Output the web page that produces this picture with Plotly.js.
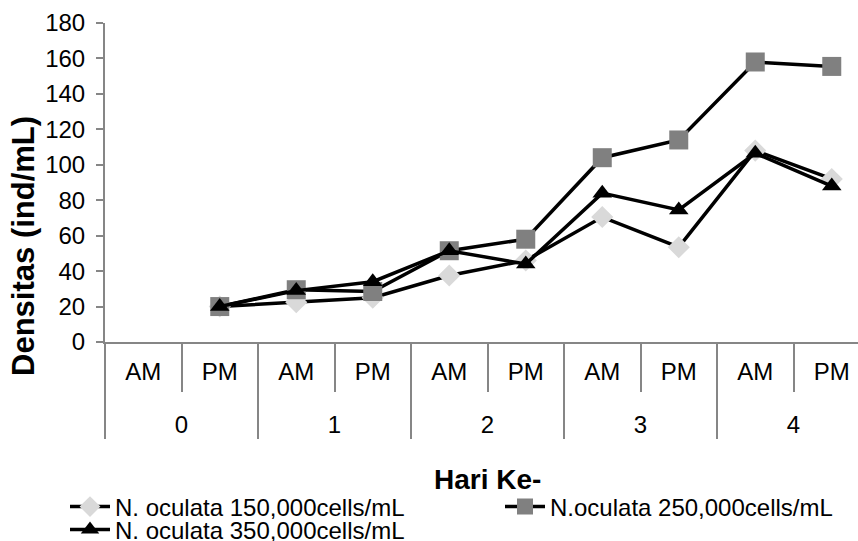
<!DOCTYPE html>
<html>
<head>
<meta charset="utf-8">
<script src="https://cdn.plot.ly/plotly-3.0.1.min.js"></script>
<style>html,body{margin:0;padding:0;background:#fff;}#chart{width:858px;height:541px;}</style>
</head>
<body>
<div id="chart"></div>
<script>
// Categories (two-level x axis)
var hari  = ["0", "0", "1", "1", "2", "2", "3", "3", "4", "4"];
var waktu = ["AM", "PM", "AM", "PM", "AM", "PM", "AM", "PM", "AM", "PM"];

// Series values (ind/mL)
var seriesNames = ["N. oculata 150,000cells/mL", "N.oculata 250,000cells/mL", "N. oculata 350,000cells/mL"];
var s150 = [null, 20, 22.5, 25, 37.5, 46, 70.5, 53.5, 108, 92];
var s250 = [null, 20, 29.5, 28.5, 51.5, 58, 104, 114, 158, 155.5];
var s350 = [null, 20, 29, 34, 51.5, 44, 84, 74.5, 106.5, 88];

// Y axis ticks
var yTicks = [0, 20, 40, 60, 80, 100, 120, 140, 160, 180];

var FONT = "Liberation Sans, Arial, sans-serif";
var AXIS_GRAY = "#868686";

// outer (day) labels are set one line lower, as in the reference
var hariLabel = hari.map(function (d) { return "<br>" + d; });

function mk(name, y, symbol, color, size, legendId) {
  return {
    type: "scatter",
    mode: "lines+markers",
    name: name,
    legend: legendId,
    x: [hariLabel, waktu],
    y: y,
    line: {color: "#000000", width: 3.5},
    marker: {symbol: symbol, color: color, size: size, line: {width: 0}},
    cliponaxis: false
  };
}

var data = [
  mk(seriesNames[0], s150, "diamond", "#d9d9d9", 17, "legend"),
  mk(seriesNames[1], s250, "square", "#808080", 19, "legend2"),
  mk(seriesNames[2], s350, "triangle-up", "#000000", 17, "legend3")
];

function leg(xpx, ypx) {
  return {
    orientation: "v",
    xref: "container", yref: "container",
    x: xpx / 858, y: 1 - ypx / 541,
    xanchor: "left", yanchor: "middle",
    bgcolor: "rgba(0,0,0,0)",
    borderwidth: 0,
    font: {family: FONT, size: 24, color: "#000000"},
    itemwidth: 40
  };
}

var layout = {
  width: 858,
  height: 541,
  margin: {l: 105, r: 0, t: 23, b: 199, pad: 0, autoexpand: false},
  paper_bgcolor: "#ffffff",
  plot_bgcolor: "#ffffff",
  font: {family: FONT, color: "#000000", size: 24},
  showlegend: true,
  xaxis: {
    type: "multicategory",
    range: [-0.5, 9.343],
    showline: true,
    linecolor: AXIS_GRAY,
    linewidth: 2,
    showgrid: false,
    zeroline: false,
    ticks: "outside",
    tickson: "boundaries",
    ticklen: 48,
    tickwidth: 2,
    tickcolor: AXIS_GRAY,
    ticklabelstandoff: 7,
    tickangle: 0,
    showdividers: true,
    dividercolor: AXIS_GRAY,
    dividerwidth: 2,
    automargin: false,
    tickfont: {family: FONT, size: 24, color: "#000000"}
  },
  yaxis: {
    range: [0, 180],
    tickvals: yTicks,
    ticktext: yTicks.map(String),
    showline: true,
    linecolor: AXIS_GRAY,
    linewidth: 2,
    showgrid: false,
    zeroline: false,
    ticks: "outside",
    ticklen: 7,
    tickwidth: 2,
    tickcolor: AXIS_GRAY,
    ticklabelstandoff: 6,
    automargin: false,
    tickfont: {family: FONT, size: 24, color: "#000000"}
  },
  annotations: [
    {
      text: "<b>Densitas (ind/mL)</b>",
      xref: "paper", yref: "paper",
      x: -0.1076, y: 0.301,
      xanchor: "center", yanchor: "middle",
      textangle: -90,
      showarrow: false,
      font: {family: FONT, size: 31, color: "#000000"}
    },
    {
      text: "<b>Hari Ke-</b>",
      xref: "paper", yref: "paper",
      x: 0.5086, y: -0.4326,
      xanchor: "center", yanchor: "middle",
      showarrow: false,
      font: {family: FONT, size: 28, color: "#000000"}
    }
  ],
  legend: leg(65, 507),
  legend2: leg(500, 507),
  legend3: leg(65, 530)
};

Plotly.newPlot("chart", data, layout, {displayModeBar: false, staticPlot: true});
</script>
</body>
</html>
